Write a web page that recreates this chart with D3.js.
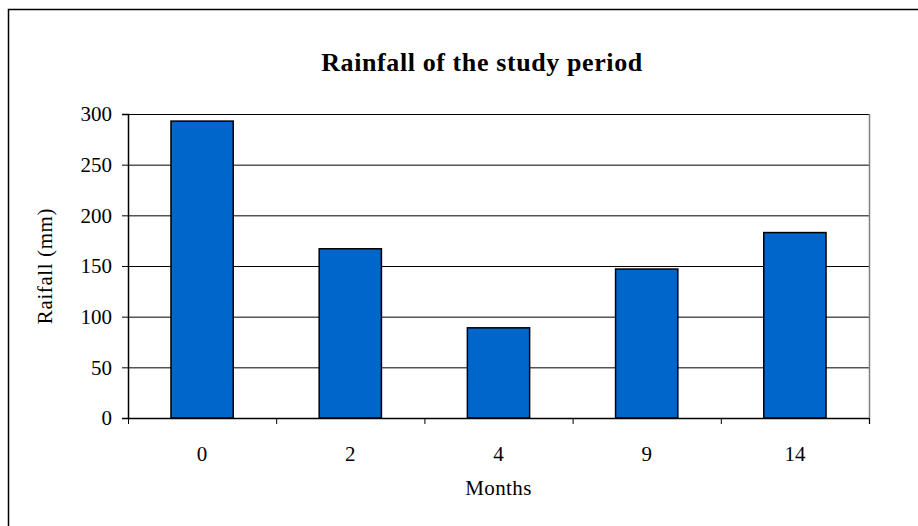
<!DOCTYPE html>
<html>
<head>
<meta charset="utf-8">
<script src="https://cdn.jsdelivr.net/npm/d3@7"></script>
<style>
  body { margin: 0; background: #fff; }
  svg text { font-family: "Liberation Serif", "Times New Roman", serif; fill: #000; }
</style>
</head>
<body>
<div id="rain-viz"></div>
<script>
// data
const months = ["0", "2", "4", "9", "14"];
const rainfall = [293, 167, 89, 147, 183];
const yTicks = [0, 50, 100, 150, 200, 250, 300];

const params = { el: "#rain-viz" };

class chartRain {
    constructor(params) {
        this.width = 918;
        this.height = 526;
        // plot area, as measured on the reference
        const m = { left: 128, right: 869, top: 114, bottom: 418 };

        this.svg = d3.select(params.el)
            .append("svg")
            .attr("width", this.width)
            .attr("height", this.height);

        // outer chart frame (runs off the right/bottom edge)
        this.svg.append("rect")
            .attr("x", 8.5).attr("y", 9.5)
            .attr("width", 1000).attr("height", 1000)
            .attr("fill", "none").attr("stroke", "#000").attr("stroke-width", 1.5);

        const x = d3.scaleBand().domain(months).range([m.left, m.right]).paddingInner(0.58).paddingOuter(0.29);
        const y = d3.scaleLinear().domain([0, 300]).range([m.bottom, m.top]);
        const band = d3.scaleBand().domain(months).range([m.left, m.right]);

        // gridlines
        this.svg.append("g")
            .selectAll("line")
            .data(yTicks.filter(d => d > 0))
            .join("line")
            .attr("x1", m.left).attr("x2", m.right)
            .attr("y1", d => y(d) + 0.5).attr("y2", d => y(d) + 0.5)
            .attr("stroke", "#000").attr("stroke-width", 1);

        // right edge of plot area (grey)
        this.svg.append("line")
            .attr("x1", m.right + 0.5).attr("x2", m.right + 0.5)
            .attr("y1", m.top).attr("y2", m.bottom + 6)
            .attr("stroke", "#808080").attr("stroke-width", 1.5);

        // bars
        this.svg.append("g")
            .selectAll("rect")
            .data(rainfall)
            .join("rect")
            .attr("x", (d, i) => x(months[i]))
            .attr("width", x.bandwidth())
            .attr("y", d => y(d))
            .attr("height", d => y(0) - y(d))
            .attr("fill", "#0066CC")
            .attr("stroke", "#000")
            .attr("stroke-width", 1.5);

        // y axis
        const yAxis = this.svg.append("g")
            .attr("transform", `translate(${m.left},0)`)
            .call(d3.axisLeft(y).tickValues(yTicks).tickSize(6).tickPadding(10));
        yAxis.select(".domain").attr("stroke", "#000").attr("stroke-width", 1.5);
        yAxis.selectAll(".tick line").attr("stroke", "#000");
        yAxis.selectAll("text").attr("font-size", 21).attr("fill", "#000")
            .attr("font-family", "Liberation Serif, serif");

        // x axis: ticks on category boundaries, labels centred
        const xAxis = this.svg.append("g").attr("transform", `translate(0,${m.bottom})`);
        xAxis.append("line")
            .attr("x1", m.left).attr("x2", m.right)
            .attr("y1", 0.5).attr("y2", 0.5)
            .attr("stroke", "#000").attr("stroke-width", 1.5);
        xAxis.selectAll("line.tk")
            .data(months.map(d => band(d)).concat([m.right]))
            .join("line").attr("class", "tk")
            .attr("x1", d => d + 0.5).attr("x2", d => d + 0.5)
            .attr("y1", 0).attr("y2", 6)
            .attr("stroke", "#000");
        xAxis.selectAll("text")
            .data(months)
            .join("text")
            .attr("x", d => band(d) + band.bandwidth() / 2)
            .attr("y", 43)
            .attr("text-anchor", "middle")
            .attr("font-size", 21)
            .text(d => d);

        // titles
        this.svg.append("text")
            .attr("x", 482).attr("y", 71)
            .attr("text-anchor", "middle")
            .attr("font-size", 26).attr("font-weight", "bold")
            .attr("letter-spacing", 0.6)
            .text("Rainfall of the study period");

        this.svg.append("text")
            .attr("x", (m.left + m.right) / 2).attr("y", 495)
            .attr("text-anchor", "middle")
            .attr("font-size", 21)
            .attr("letter-spacing", 0.4)
            .text("Months");

        this.svg.append("text")
            .attr("transform", `translate(52,${(m.top + m.bottom) / 2}) rotate(-90)`)
            .attr("text-anchor", "middle")
            .attr("font-size", 21)
            .attr("letter-spacing", 0.6)
            .text("Raifall (mm)");
    }
}

function whenDocumentLoaded(action) {
    if (document.readyState === "loading") {
        document.addEventListener("DOMContentLoaded", action);
    } else {
        action();
    }
}
whenDocumentLoaded(() => {
    plot_object = new chartRain(params);
});
</script>
</body>
</html>
